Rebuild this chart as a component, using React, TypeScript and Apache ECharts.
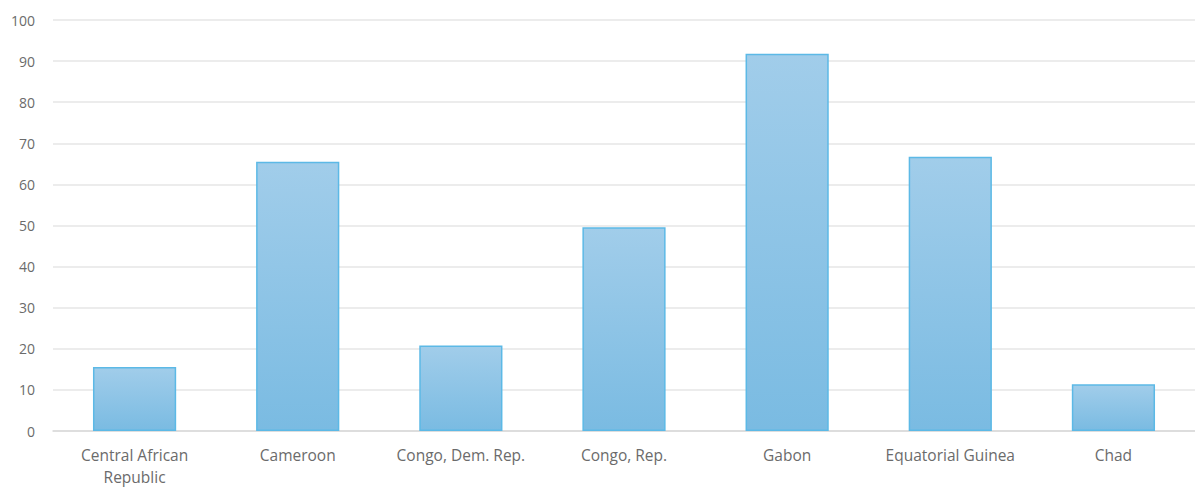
import React, { useEffect, useRef } from "react";
import * as echarts from "echarts";

const categories = [
  "Central African\nRepublic",
  "Cameroon",
  "Congo, Dem. Rep.",
  "Congo, Rep.",
  "Gabon",
  "Equatorial Guinea",
  "Chad",
];
const values = [15.6, 65.5, 20.8, 49.6, 91.8, 66.7, 11.4];

export default function App() {
  const ref = useRef<HTMLDivElement>(null);
  useEffect(() => {
    document.body.style.margin = "0";
    const chart = echarts.init(ref.current!, null, { renderer: "svg" });
    chart.setOption({
      animation: false,
      backgroundColor: "#ffffff",
      grid: { left: 53, right: 0, top: 20, bottom: 54 },
      xAxis: {
        type: "category",
        data: categories,
        axisLine: { lineStyle: { color: "#d9d9d9", width: 1.5 } },
        axisTick: { show: false },
        axisLabel: {
          color: "#6b6b6b",
          fontSize: 15.5,
          fontFamily: "Open Sans",
          margin: 13,
          lineHeight: 22,
          interval: 0,
        },
      },
      yAxis: {
        type: "value",
        min: 0,
        max: 100,
        interval: 10,
        axisLine: { show: false },
        axisTick: { show: false },
        splitLine: { lineStyle: { color: "#e6e6e6", width: 1.5 } },
        axisLabel: {
          color: "#6b6b6b",
          fontSize: 14,
          fontFamily: "Open Sans",
          margin: 18,
        },
      },
      series: [
        {
          type: "bar",
          data: values,
          barWidth: "51%",
          itemStyle: {
            color: new echarts.graphic.LinearGradient(0, 0, 0, 1, [
              { offset: 0, color: "#a1cdea" },
              { offset: 1, color: "#7abbe2" },
            ]),
            borderColor: "#5cb9e6",
            borderWidth: 1.5,
          },
        },
      ],
    });
    return () => chart.dispose();
  }, []);
  return <div ref={ref} style={{ width: 1195, height: 488 }} />;
}
